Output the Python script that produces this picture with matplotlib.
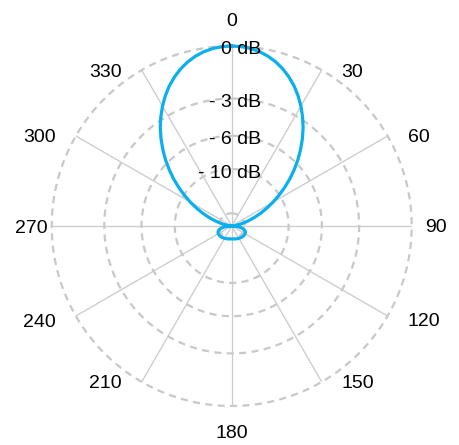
import numpy as np
import matplotlib
matplotlib.use("Agg")
import matplotlib.pyplot as plt
from matplotlib.transforms import offset_copy, IdentityTransform

plt.rcParams['font.family'] = ['Liberation Sans', 'DejaVu Sans']

# Polar response for the right half (0-180 deg), linear amplitude (1.0 = 0 dB).
# The pattern is symmetric, so the left half mirrors these values.
half_angle_deg = [0, 3, 6, 9, 12, 15, 18, 21, 24, 27, 30, 33, 36, 39, 42, 45, 48, 51,
                  54, 57, 60, 63, 66, 69, 72, 75, 78, 81, 84, 87, 90,
                  93, 96, 99, 102, 105, 110, 115, 120, 130, 140, 150, 160, 170, 180]
half_response = [1.000, 0.998, 0.992, 0.981, 0.965, 0.944, 0.918, 0.887, 0.852, 0.812,
                 0.769, 0.723, 0.675, 0.624, 0.572, 0.520, 0.467, 0.415, 0.363, 0.313,
                 0.265, 0.220, 0.178, 0.139, 0.104, 0.073, 0.047, 0.027, 0.012, 0.003,
                 0.0,
                 0.018, 0.034, 0.048, 0.060, 0.070, 0.079, 0.084, 0.086, 0.086, 0.083,
                 0.079, 0.076, 0.073, 0.072]

# Ring levels in dB and their labels
ring_db = [0, -3, -6, -10, -23]
ring_labels = ["0 dB", "- 3 dB", "- 6 dB", "- 10 dB", ""]

# Angle labels
angle_ticks = list(range(0, 360, 30))
angle_labels = [str(a) for a in angle_ticks]

# Full curve: right half followed by the mirrored left half
angle_deg = half_angle_deg + [360 - a for a in reversed(half_angle_deg[:-1])]
response = half_response + list(reversed(half_response[:-1]))

W, H, DPI = 460, 445, 100
fig = plt.figure(figsize=(W / DPI, H / DPI), dpi=DPI)
cx, cy, R = 231.7, H - 226.0, 180.0
ax = fig.add_axes([(cx - R) / W, (cy - R) / H, 2 * R / W, 2 * R / H], projection='polar')
ax.set_theta_zero_location('N')
ax.set_theta_direction(-1)
ax.set_ylim(0, 1)
ax.spines['polar'].set_visible(False)
ax.set_facecolor('none')

# Spokes
ax.set_xticks(np.deg2rad(angle_ticks))
ax.set_xticklabels([])
ax.set_yticks([])
ax.xaxis.grid(True, color='#cccccc', linewidth=0.95, linestyle='-')
ax.yaxis.grid(False)
ax.tick_params(axis='x', length=0)

# Dashed rings
ring_r = [10 ** (d / 20.0) for d in ring_db]
tt = np.linspace(0, 2 * np.pi, 721)
for r in ring_r:
    ax.plot(tt, np.full_like(tt, r), color='#c8c8c8', linewidth=1.6,
            linestyle=(0, (3.2, 2.4)), clip_on=False, zorder=1)

# Response curve
ax.plot(np.deg2rad(angle_deg), response, color='#0AAFEE', linewidth=2.3,
        zorder=3, clip_on=False, solid_joinstyle='round')

# Ring labels, right-aligned just right of the 0-degree spoke
lab_tr = offset_copy(ax.transData, fig=fig, x=29.3, y=-2, units='dots')
for r, lab in zip(ring_r, ring_labels):
    if lab:
        ax.text(0.0, r, lab, transform=lab_tr, ha='right', va='center_baseline',
                fontsize=14, color='black', zorder=4, clip_on=False)

# Angle labels: placed beside the end of each spoke (pixel coordinates)
gap = 20.0
ident = IdentityTransform()
angle_texts = []
for a, lab in zip(angle_ticks, angle_labels):
    th = np.deg2rad(a)
    ex, ey = cx + R * np.sin(th), cy + R * np.cos(th)
    if a in (120, 240):
        ey -= 4
    if a == 0:
        t = fig.text(ex, ey + gap, lab, transform=ident, ha='center', va='baseline')
    elif a == 180:
        t = fig.text(ex, ey - gap + 1, lab, transform=ident, ha='center', va='top')
    elif np.sin(th) > 0:
        t = fig.text(ex + gap, ey, lab, transform=ident, ha='left', va='center_baseline')
    else:
        t = fig.text(ex - gap, ey, lab, transform=ident, ha='right', va='center_baseline')
    t.set_fontsize(14)
    t.set_color('black')
    angle_texts.append(t)

# Keep the angle labels inside the drawing area
fig.canvas.draw()
renderer = fig.canvas.get_renderer()
x_min, x_max = 15.0, 447.0
for t in angle_texts:
    bb = t.get_window_extent(renderer)
    x, y = t.get_position()
    if bb.x0 < x_min:
        t.set_position((x + (x_min - bb.x0), y))
    elif bb.x1 > x_max:
        t.set_position((x - (bb.x1 - x_max), y))

fig.savefig('out.png', dpi=DPI)
